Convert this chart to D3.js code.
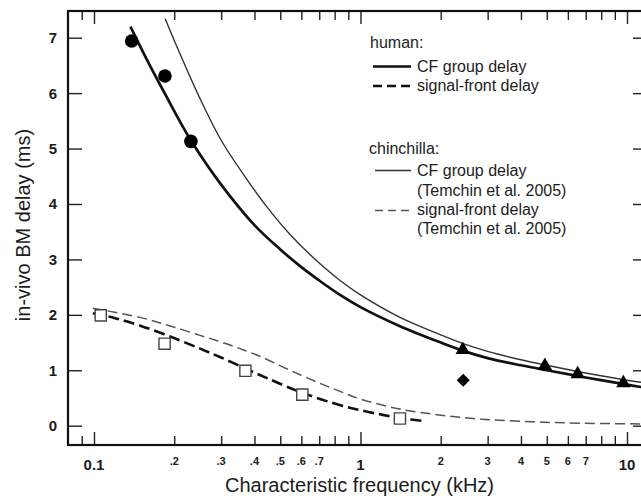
<!DOCTYPE html>
<html><head><meta charset="utf-8">
<script src="https://cdn.jsdelivr.net/npm/d3@7"></script>
<style>
html,body{margin:0;padding:0;background:#fff;}
svg{display:block;font-family:"Liberation Sans",Arial,Helvetica,sans-serif;}
</style></head>
<body>
<svg id="chart" width="641" height="500"></svg>
<script>
// ---- data ----
const majorXTicks = [0.1, 1, 10];
const majorXLabels = ["0.1", "1", "10"];
const minorXTicks = [0.09, 0.2, 0.3, 0.4, 0.5, 0.6, 0.7, 0.8, 0.9, 2, 3, 4, 5, 6, 7, 8, 9];
const minorLabelVals = [0.2, 0.3, 0.4, 0.5, 0.6, 0.7, 2, 3, 4, 5, 6, 7];
const minorLabels = [".2", ".3", ".4", ".5", ".6", ".7", "2", "3", "4", "5", "6", "7"];
const yTicks = [0, 1, 2, 3, 4, 5, 6, 7];

// human CF group delay (thick solid)
const humanCF = [[0.137,7.2],[0.16,6.55],[0.185,5.98],[0.21,5.49],[0.233,5.12],[0.3,4.35],[0.4,3.62],[0.5,3.18],[0.6,2.86],[0.7,2.62],[0.838,2.36],[1.0,2.14],[1.4,1.8],[2.0,1.5],[2.43,1.35],[3.0,1.22],[4.0,1.09],[5.0,1.0],[7.0,0.87],[10.0,0.74],[11.9,0.68]];
// human signal-front delay (thick dashed)
const humanSF = [[0.099,2.03],[0.12,1.94],[0.15,1.80],[0.193,1.61],[0.25,1.39],[0.3,1.23],[0.374,1.02],[0.45,0.85],[0.6,0.6],[0.8,0.4],[1.0,0.28],[1.2,0.2],[1.406,0.14],[1.75,0.08]];
// chinchilla CF group delay (thin solid)
const chinCF = [[0.185,7.34],[0.2,6.95],[0.25,5.9],[0.3,5.15],[0.374,4.45],[0.45,3.92],[0.544,3.45],[0.705,2.92],[0.838,2.62],[1.0,2.36],[1.4,1.96],[2.0,1.64],[2.43,1.48],[3.0,1.34],[4.0,1.19],[5.0,1.09],[7.0,0.95],[10.0,0.82],[11.9,0.77]];
// chinchilla signal-front delay (thin dashed)
const chinSF = [[0.099,2.12],[0.15,1.95],[0.193,1.80],[0.25,1.63],[0.3,1.51],[0.353,1.39],[0.42,1.25],[0.544,1.0],[0.7,0.77],[0.838,0.62],[1.0,0.48],[1.406,0.30],[2.0,0.19],[2.81,0.12],[4.0,0.08],[6.0,0.05],[11.9,0.03]];

const circleF = [0.1385, 0.1846, 0.231];
const circleY = [6.94, 6.31, 5.13];
const squareF = [0.106, 0.184, 0.370, 0.605, 1.406];
const squareY = [1.99, 1.48, 0.99, 0.56, 0.13];
const triF = [2.42, 4.92, 6.53, 9.69];
const triY = [1.37, 1.08, 0.93, 0.77];
const diamondF = [2.43];
const diamondY = [0.82];

const legendHuman = ["CF group delay", "signal-front delay"];
const legendChin = [["CF group delay", "(Temchin et al. 2005)"], ["signal-front delay", "(Temchin et al. 2005)"]];

// ---- layout ----
const frame = {left: 68, right: 647, top: 11, bottom: 445};
const x = d3.scaleLog().domain([0.1, 10]).range([94, 627]);
const y = d3.scaleLinear().domain([0, 7]).range([425.7, 37.7]);
const svg = d3.select("#chart");
const ink = "#1c1c1c";

svg.append("defs").append("clipPath").attr("id", "clip")
  .append("rect").attr("x", frame.left).attr("y", frame.top)
  .attr("width", frame.right - frame.left).attr("height", frame.bottom - frame.top);

// axes ticks (inside)
function xTicks(vals, len, yPos, dir) {
  const ax = (dir > 0 ? d3.axisTop(x) : d3.axisBottom(x)).tickValues(vals).tickSize(-len).tickFormat("");
  const g = svg.append("g").attr("transform", `translate(0,${yPos})`).call(ax);
  g.select(".domain").remove();
  g.selectAll("line").attr("stroke", "#222").attr("stroke-width", 1.4);
}
xTicks(majorXTicks, 13, frame.bottom, -1);
xTicks(minorXTicks, 9, frame.bottom, -1);
xTicks(majorXTicks, 13, frame.top, 1);
xTicks(minorXTicks, 9, frame.top, 1);

function yAx(xPos, left) {
  const ax = (left ? d3.axisLeft(y) : d3.axisRight(y)).tickValues(yTicks).tickSize(-14).tickFormat("");
  const g = svg.append("g").attr("transform", `translate(${xPos},0)`).call(ax);
  g.select(".domain").remove();
  g.selectAll("line").attr("stroke", "#222").attr("stroke-width", 1.4);
}
yAx(frame.left, true);
yAx(frame.right, false);

// frame
svg.append("rect").attr("x", frame.left).attr("y", frame.top)
  .attr("width", frame.right - frame.left).attr("height", frame.bottom - frame.top)
  .attr("fill", "none").attr("stroke", "#111").attr("stroke-width", 2.2);

// tick labels
svg.append("g").selectAll("text").data(majorXTicks).join("text")
  .attr("x", d => x(d)).attr("y", 469.5).attr("text-anchor", "middle")
  .attr("font-size", 15).attr("font-weight", "bold").attr("fill", ink)
  .text((d, i) => majorXLabels[i]);
svg.append("g").selectAll("text").data(minorLabelVals).join("text")
  .attr("x", d => x(d)).attr("y", 465).attr("text-anchor", "middle")
  .attr("font-size", 11).attr("font-weight", "bold").attr("fill", ink)
  .text((d, i) => minorLabels[i]);
svg.append("g").selectAll("text").data(yTicks).join("text")
  .attr("x", 57).attr("y", d => y(d)).attr("dy", "0.36em").attr("text-anchor", "end")
  .attr("font-size", 15).attr("font-weight", "bold").attr("fill", ink)
  .text(d => d);

// axis titles
svg.append("text").attr("x", 359.5).attr("y", 491.5).attr("text-anchor", "middle")
  .attr("font-size", 20).attr("fill", ink).text("Characteristic frequency (kHz)");
svg.append("text").attr("transform", "translate(30,225) rotate(-90)").attr("text-anchor", "middle")
  .attr("font-size", 20).attr("fill", ink).text("in-vivo BM delay (ms)");

// curves
const line = d3.line().x(d => x(d[0])).y(d => y(d[1])).curve(d3.curveCatmullRom.alpha(0.5));
const plot = svg.append("g").attr("clip-path", "url(#clip)");
plot.append("path").datum(chinSF).attr("d", line).attr("fill", "none")
  .attr("stroke", "#555").attr("stroke-width", 1.5).attr("stroke-dasharray", "10,5");
plot.append("path").datum(humanSF).attr("d", line).attr("fill", "none")
  .attr("stroke", "#111").attr("stroke-width", 2.6).attr("stroke-dasharray", "11,5");
plot.append("path").datum(chinCF).attr("d", line).attr("fill", "none")
  .attr("stroke", "#333").attr("stroke-width", 1.4);
plot.append("path").datum(humanCF).attr("d", line).attr("fill", "none")
  .attr("stroke", "#111").attr("stroke-width", 2.7);

// markers
plot.append("g").selectAll("circle").data(circleF).join("circle")
  .attr("cx", d => x(d)).attr("cy", (d, i) => y(circleY[i])).attr("r", 6.8).attr("fill", "#000");
plot.append("g").selectAll("path").data(squareF).join("path")
  .attr("transform", (d, i) => `translate(${x(d)},${y(squareY[i])})`)
  .attr("d", d3.symbol(d3.symbolSquare, 125)).attr("fill", "#fff")
  .attr("stroke", "#444").attr("stroke-width", 1.4);
plot.append("g").selectAll("path").data(triF).join("path")
  .attr("transform", (d, i) => `translate(${x(d)},${y(triY[i])})`)
  .attr("d", d3.symbol(d3.symbolTriangle, 90)).attr("fill", "#000");
plot.append("g").selectAll("path").data(diamondF).join("path")
  .attr("transform", (d, i) => `translate(${x(d)},${y(diamondY[i])}) rotate(45)`)
  .attr("d", d3.symbol(d3.symbolSquare, 85)).attr("fill", "#000");

// legend
const lg = svg.append("g").attr("fill", ink).attr("font-size", 16);
lg.append("text").attr("x", 370).attr("y", 48).text("human:");
const hy = [71.5, 91];
lg.selectAll("text.h").data(legendHuman).join("text").attr("class", "h")
  .attr("x", 417).attr("y", (d, i) => hy[i]).text(d => d);
lg.append("line").attr("x1", 373).attr("x2", 411).attr("y1", 66.5).attr("y2", 66.5)
  .attr("stroke", "#111").attr("stroke-width", 2.7);
lg.append("line").attr("x1", 373).attr("x2", 411).attr("y1", 86).attr("y2", 86)
  .attr("stroke", "#111").attr("stroke-width", 2.6).attr("stroke-dasharray", "9,5");
lg.append("text").attr("x", 369).attr("y", 153.5).text("chinchilla:");
const cy = [[176, 195.5], [215, 234]];
legendChin.forEach((pair, i) => {
  pair.forEach((t, j) => {
    lg.append("text").attr("x", 417).attr("y", cy[i][j]).text(t);
  });
});
lg.append("line").attr("x1", 375).attr("x2", 411).attr("y1", 170.5).attr("y2", 170.5)
  .attr("stroke", "#333").attr("stroke-width", 1.4);
lg.append("line").attr("x1", 375).attr("x2", 411).attr("y1", 210.5).attr("y2", 210.5)
  .attr("stroke", "#555").attr("stroke-width", 1.5).attr("stroke-dasharray", "8,5");
</script>
</body></html>
